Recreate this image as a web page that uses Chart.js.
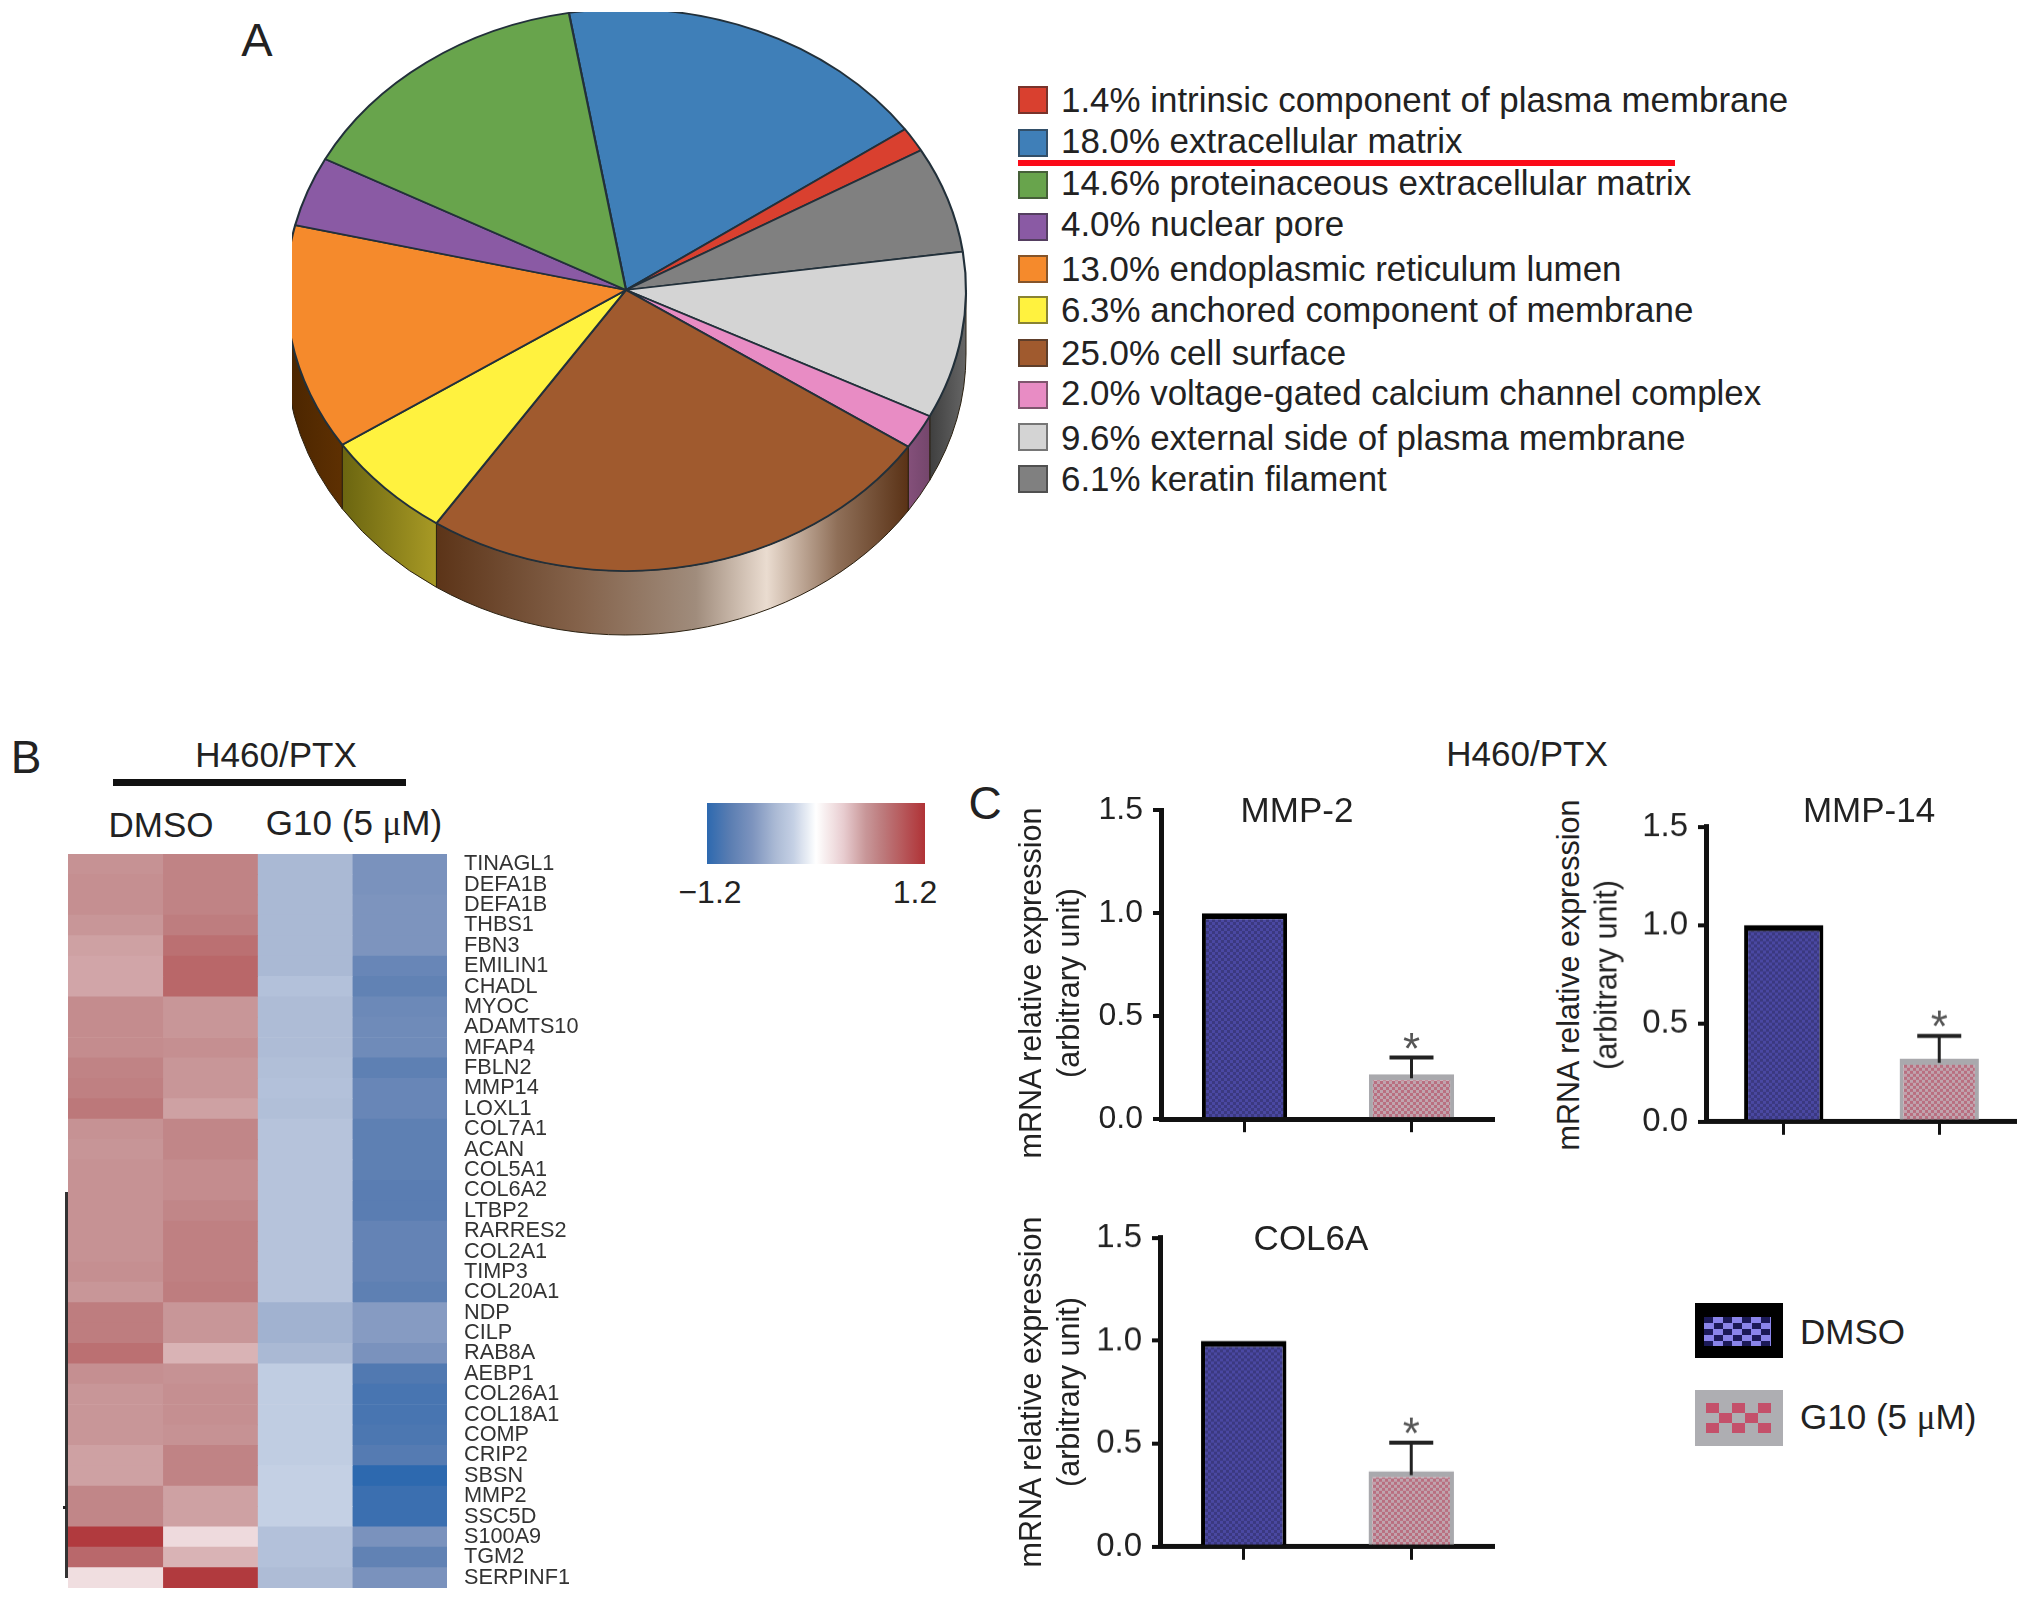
<!DOCTYPE html>
<html>
<head>
<meta charset="utf-8">
<title>H460/PTX</title>
<script src="https://cdn.jsdelivr.net/npm/chart.js@4/dist/chart.umd.js"></script>
<style>
    html, body { margin: 0; padding: 0; background: #fff; }
    #page { position: relative; width: 2032px; height: 1602px; overflow: hidden; background: #fff; font-family: "Liberation Sans", sans-serif; color: #222; }
    #page canvas { position: absolute; }
    .txt { position: absolute; white-space: nowrap; transform: translate(-50%, -50%); }
    .txt.left { transform: translate(0, -50%); }
    .txt.rot { transform: translate(-50%, -50%) rotate(-90deg); }
    .box { position: absolute; }
    .mu { font-family: "Liberation Serif", serif; }
</style>
</head>
<body>
<div id="page"></div>
<script>
// --- A: pie data (legend order) ---
const pieLabels = ['intrinsic component of plasma membrane', 'extracellular matrix', 'proteinaceous extracellular matrix', 'nuclear pore', 'endoplasmic reticulum lumen', 'anchored component of membrane', 'cell surface', 'voltage-gated calcium channel complex', 'external side of plasma membrane', 'keratin filament'];
const pieValues = [1.4, 18.0, 14.6, 4.0, 13.0, 6.3, 25.0, 2.0, 9.6, 6.1];
const pieColors = ['#d9402f', '#3f7fb8', '#68a44c', '#8a5aa4', '#f58a2c', '#fff23f', '#a05a2e', '#e88cc4', '#d4d4d4', '#808080'];
// side wall gradient of the slices that show a wall
const pieSides = {
    4: [[0, '#4a2500'], [1, '#5e3002']],
    5: [[0, '#6b6510'], [1, '#a89a25']],
    6: [[0, '#5c3418'], [0.3, '#84624a'], [0.55, '#a08c7c'], [0.7, '#eadcd0'], [0.85, '#8f6f58'], [1, '#5a3216']],
    7: [[0, '#84507a'], [1, '#74466c']],
    8: [[0, '#3f3f3f'], [1, '#666666']]
};

// --- B: heatmap data, z-scores ---
const geneLabels = ['TINAGL1', 'DEFA1B', 'DEFA1B', 'THBS1', 'FBN3', 'EMILIN1', 'CHADL', 'MYOC', 'ADAMTS10', 'MFAP4', 'FBLN2', 'MMP14', 'LOXL1', 'COL7A1', 'ACAN', 'COL5A1', 'COL6A2', 'LTBP2', 'RARRES2', 'COL2A1', 'TIMP3', 'COL20A1', 'NDP', 'CILP', 'RAB8A', 'AEBP1', 'COL26A1', 'COL18A1', 'COMP', 'CRIP2', 'SBSN', 'MMP2', 'SSC5D', 'S100A9', 'TGM2', 'SERPINF1'];
const dmso1 = [0.58, 0.6, 0.6, 0.55, 0.5, 0.48, 0.48, 0.62, 0.62, 0.62, 0.68, 0.7, 0.75, 0.58, 0.56, 0.58, 0.58, 0.58, 0.58, 0.58, 0.6, 0.55, 0.72, 0.72, 0.8, 0.6, 0.55, 0.55, 0.55, 0.5, 0.5, 0.66, 0.66, 1.15, 0.85, 0.2];
const dmso2 = [0.68, 0.68, 0.68, 0.72, 0.8, 0.86, 0.86, 0.55, 0.55, 0.6, 0.55, 0.55, 0.5, 0.66, 0.66, 0.62, 0.62, 0.66, 0.7, 0.7, 0.7, 0.72, 0.55, 0.55, 0.42, 0.58, 0.6, 0.6, 0.58, 0.68, 0.68, 0.5, 0.5, 0.22, 0.42, 1.15];
const g10a = [-0.45, -0.45, -0.45, -0.45, -0.45, -0.45, -0.38, -0.42, -0.42, -0.42, -0.4, -0.38, -0.4, -0.36, -0.36, -0.36, -0.36, -0.36, -0.36, -0.36, -0.36, -0.36, -0.5, -0.5, -0.45, -0.28, -0.28, -0.28, -0.28, -0.28, -0.25, -0.25, -0.25, -0.38, -0.38, -0.42];
const g10b = [-0.72, -0.72, -0.7, -0.7, -0.7, -0.85, -0.9, -0.82, -0.8, -0.8, -0.92, -0.85, -0.85, -0.92, -0.92, -0.92, -0.95, -0.95, -0.88, -0.88, -0.88, -0.92, -0.65, -0.65, -0.72, -1.0, -1.05, -1.05, -1.03, -0.98, -1.2, -1.12, -1.12, -0.72, -0.9, -0.72];

// --- C: bar data ---
const barGroups = ['DMSO', 'G10 (5 μM)'];
const barTicks = [0, 0.5, 1.0, 1.5];
const mmp2Values = [1.0, 0.218];
const mmp2Upper = [null, 0.30];
const mmp14Values = [1.0, 0.32];
const mmp14Upper = [null, 0.437];
const col6aValues = [1.0, 0.367];
const col6aUpper = [null, 0.506];

// colour scale of the heatmap: z value -> rgb
const heatStops = [
    [-1.2, [45, 105, 175]],
    [-0.95, [90, 125, 178]],
    [-0.7, [125, 148, 190]],
    [-0.45, [170, 185, 212]],
    [-0.25, [196, 208, 228]],
    [0, [255, 255, 255]],
    [0.3, [232, 205, 208]],
    [0.55, [200, 150, 152]],
    [0.75, [188, 120, 122]],
    [1.2, [176, 50, 54]]
];

function heatColor(v) {
    for (let i = 1; i < heatStops.length; i++) {
        if (v <= heatStops[i][0]) {
            const a = heatStops[i - 1], b = heatStops[i];
            const t = (v - a[0]) / (b[0] - a[0]);
            const c = a[1].map((x, k) => Math.round(x + (b[1][k] - x) * t));
            return `rgb(${c[0]}, ${c[1]}, ${c[2]})`;
        }
    }
    return 'rgb(176, 50, 54)';
}

const page = document.getElementById('page');
Chart.defaults.font.family = '"Liberation Sans", sans-serif';
Chart.defaults.color = '#222';
Chart.defaults.animation = false;
Chart.defaults.responsive = false;
Chart.defaults.maintainAspectRatio = false;
Chart.defaults.devicePixelRatio = 1;

function addCanvas(left, top, width, height) {
    const c = document.createElement('canvas');
    c.width = width;
    c.height = height;
    c.style.left = left + 'px';
    c.style.top = top + 'px';
    c.style.width = width + 'px';
    c.style.height = height + 'px';
    page.appendChild(c);
    return c;
}

function addText(html, x, y, size, cls) {
    const d = document.createElement('div');
    d.className = 'txt ' + (cls || '');
    d.innerHTML = html;
    d.style.left = x + 'px';
    d.style.top = y + 'px';
    d.style.fontSize = size + 'px';
    page.appendChild(d);
    return d;
}

function addBox(x, y, w, h, background) {
    const d = document.createElement('div');
    d.className = 'box';
    d.style.left = x + 'px';
    d.style.top = y + 'px';
    d.style.width = w + 'px';
    d.style.height = h + 'px';
    d.style.background = background;
    page.appendChild(d);
    return d;
}

// resize and move a chart so that its plot area lands on the wanted rectangle
function fitPlot(chart, left, top, right, bottom) {
    for (let i = 0; i < 3; i++) {
        const a = chart.chartArea;
        chart.resize(chart.width + (right - left) - (a.right - a.left), chart.height + (bottom - top) - (a.bottom - a.top));
    }
    const a = chart.chartArea;
    chart.canvas.style.left = (left - a.left) + 'px';
    chart.canvas.style.top = (top - a.top) + 'px';
}

// --- panel A ---
// the pie is squashed to an ellipse and gets a side wall
const pie3d = {
    id: 'pie3d',
    beforeDatasetsDraw(chart, args, opts) {
        const ctx = chart.ctx;
        const arcs = chart.getDatasetMeta(0).data;
        const r = arcs[0].outerRadius;
        ctx.save();
        arcs.forEach((arc, i) => {
            const stops = pieSides[chart.data.datasets[0].sourceIndex[i]];
            if (!stops) return;
            for (const k of [-1, 0, 1]) {
                const lo = Math.max(arc.startAngle + k * 2 * Math.PI, 0);
                const hi = Math.min(arc.endAngle + k * 2 * Math.PI, Math.PI);
                if (hi <= lo) continue;
                const x0 = opts.cx + opts.rx * Math.cos(hi);
                const x1 = opts.cx + opts.rx * Math.cos(lo);
                const g = ctx.createLinearGradient(x0, 0, x1, 0);
                stops.forEach(s => g.addColorStop(s[0], s[1]));
                ctx.beginPath();
                ctx.ellipse(opts.cx, opts.cy, opts.rx, opts.ry, 0, lo, hi);
                ctx.ellipse(opts.cx, opts.cy + opts.depth, opts.rx, opts.ry, 0, hi, lo, true);
                ctx.closePath();
                ctx.fillStyle = g;
                ctx.fill();
                ctx.strokeStyle = '#2a2010';
                ctx.lineWidth = 1;
                ctx.stroke();
            }
        });
        ctx.restore();
        ctx.save();
        ctx.translate(opts.cx, opts.cy);
        ctx.scale(opts.rx / r, opts.ry / r);
        ctx.translate(-arcs[0].x, -arcs[0].y);
    },
    afterDatasetsDraw(chart) {
        chart.ctx.restore();
    }
};

// clockwise order of the slices, starting at the top
const pieOrder = [1, 0, 9, 8, 7, 6, 5, 4, 3, 2];
new Chart(addCanvas(292, 12, 700, 640), {
    type: 'pie',
    plugins: [pie3d],
    data: {
        labels: pieOrder.map(i => pieLabels[i]),
        datasets: [{
            data: pieOrder.map(i => pieValues[i]),
            sourceIndex: pieOrder,
            backgroundColor: pieOrder.map(i => pieColors[i]),
            borderColor: '#22303a',
            borderWidth: 2
        }]
    },
    options: {
        rotation: -9.67,
        layout: { padding: 0 },
        plugins: {
            legend: { display: false },
            tooltip: { enabled: false },
            pie3d: { cx: 334, cy: 278, rx: 340, ry: 281, depth: 64 }
        }
    }
});

addText('A', 257, 39, 47);

const legendRowY = [100, 142.5, 185, 226.5, 269, 310, 353, 395, 437, 479];
const legendTextY = [100, 141, 183, 224, 269, 310, 353, 393, 438, 479];
pieLabels.forEach((label, i) => {
    const s = addBox(1018, legendRowY[i] - 14, 30, 28, pieColors[i]);
    s.style.boxSizing = 'border-box';
    s.style.border = '2px solid rgba(40, 40, 40, 0.55)';
    addText(pieValues[i].toFixed(1) + '% ' + label, 1061, legendTextY[i], 34.9, 'left');
});
addBox(1018, 160, 657, 6, '#fb0a18');

// --- panel B ---
addText('B', 26, 757, 46);
addText('H460/PTX', 276, 755, 35);
addBox(113, 779, 293, 7, '#111');
addText('DMSO', 161, 825, 35);
addText('G10 (5 <span class="mu">μ</span>M)', 354, 823, 35);

const heatColumns = [dmso1, dmso2, g10a, g10b];
const heatChart = new Chart(addCanvas(68, 854, 529, 734), {
    type: 'bar',
    data: {
        labels: geneLabels,
        datasets: heatColumns.map(col => ({
            data: col.map(() => 1),
            backgroundColor: col.map(heatColor),
            borderWidth: 0,
            barPercentage: 1,
            categoryPercentage: 1
        }))
    },
    options: {
        indexAxis: 'y',
        layout: { padding: 0, autoPadding: false },
        plugins: { legend: { display: false }, tooltip: { enabled: false } },
        scales: {
            x: { stacked: true, display: false, min: 0, max: heatColumns.length },
            y: {
                stacked: true,
                position: 'right',
                afterFit(scale) { scale.width = 150; },
                grid: { display: false },
                border: { display: false },
                ticks: {
                    autoSkip: false,
                    padding: 9,
                    color: '#333',
                    font: { size: 21.7 }
                }
            }
        }
    }
});
fitPlot(heatChart, 68, 854, 447, 1588);

// dendrogram stub
addBox(65, 1192, 3, 386, '#333');
addBox(63, 1506, 3, 3, '#222');

// colour key
const cssStops = [];
for (let i = 0; i <= 48; i++) {
    cssStops.push(heatColor(-1.2 + i * 0.05));
}
addBox(707, 803, 218, 61, 'linear-gradient(to right, ' + cssStops.join(', ') + ')');
addText('−1.2', 710, 892, 32);
addText('1.2', 915, 892, 32);

// --- panel C ---
addText('C', 985, 803, 46);
addText('H460/PTX', 1527, 754, 35);

function makePattern(base, dot, cell) {
    const p = document.createElement('canvas');
    p.width = cell * 2;
    p.height = cell * 2;
    const c = p.getContext('2d');
    c.fillStyle = base;
    c.fillRect(0, 0, p.width, p.height);
    c.fillStyle = dot;
    c.fillRect(0, 0, cell, cell);
    c.fillRect(cell, cell, cell, cell);
    return c.createPattern(p, 'repeat');
}

// error whiskers and the star, placed through the y scale
const errorStars = {
    id: 'errorStars',
    afterDatasetsDraw(chart) {
        const ds = chart.data.datasets[0];
        const y = chart.scales.y;
        const ctx = chart.ctx;
        chart.getDatasetMeta(0).data.forEach((bar, i) => {
            if (ds.upper[i] == null) return;
            const top = y.getPixelForValue(ds.upper[i]);
            ctx.save();
            ctx.strokeStyle = '#222';
            ctx.lineWidth = 3;
            ctx.beginPath();
            ctx.moveTo(bar.x, y.getPixelForValue(ds.data[i]) + 4);
            ctx.lineTo(bar.x, top);
            ctx.stroke();
            ctx.lineWidth = 4;
            ctx.beginPath();
            ctx.moveTo(bar.x - 22, top);
            ctx.lineTo(bar.x + 22, top);
            ctx.stroke();
            ctx.fillStyle = '#555';
            ctx.font = '44px "Liberation Sans"';
            ctx.textAlign = 'center';
            ctx.textBaseline = 'middle';
            ctx.fillText('*', bar.x, top - 6);
            ctx.restore();
        });
    }
};

function drawBarPanel(cfg) {
    const axisW = 120, pad = 20;
    const canvas = addCanvas(cfg.left - axisW, cfg.top - pad, axisW + cfg.right - cfg.left, cfg.bottom - cfg.top + pad * 2);
    const chart = new Chart(canvas, {
        type: 'bar',
        plugins: [errorStars],
        data: {
            labels: barGroups,
            datasets: [{
                data: cfg.values,
                upper: cfg.upper,
                backgroundColor: [makePattern('#3b3980', '#4a48a2', 3), makePattern('#b96f80', '#c0a4ae', 3)],
                borderColor: ['#000', '#a9a9ad'],
                borderWidth: { top: 6, left: 4, right: 4, bottom: 0 },
                borderSkipped: false,
                barPercentage: 0.51,
                categoryPercentage: 1
            }]
        },
        options: {
            layout: { padding: { top: pad, left: 0, right: 0, bottom: 0 }, autoPadding: false },
            plugins: { legend: { display: false }, tooltip: { enabled: false } },
            scales: {
                x: {
                    afterFit(scale) { scale.height = pad; },
                    border: { display: true, color: '#111', width: 5 },
                    grid: { offset: false, drawOnChartArea: false, color: '#111', lineWidth: 3, tickLength: 13 },
                    ticks: { display: false }
                },
                y: {
                    min: 0,
                    max: 1.5,
                    afterFit(scale) { scale.width = axisW; },
                    afterBuildTicks(scale) { scale.ticks = barTicks.map(v => ({ value: v })); },
                    border: { display: true, color: '#111', width: 5 },
                    grid: { drawOnChartArea: false, color: '#111', lineWidth: 4, tickLength: 8 },
                    ticks: {
                        padding: 10,
                        color: '#222',
                        font: { size: cfg.tickSize },
                        callback: v => v.toFixed(1)
                    }
                }
            }
        }
    });
    fitPlot(chart, cfg.left, cfg.top, cfg.right, cfg.bottom);
    addText(cfg.title, cfg.titleX, cfg.titleY, 35);
    addText('mRNA relative expression', cfg.yTitleX, cfg.yTitleY, 30.5, 'rot');
    addText('(arbitrary unit)', cfg.yTitleX + 38, cfg.yTitleY, 30.5, 'rot');
}

drawBarPanel({ left: 1161, right: 1495, top: 810, bottom: 1119, values: mmp2Values, upper: mmp2Upper, tickSize: 32, title: 'MMP-2', titleX: 1297, titleY: 810, yTitleX: 1030, yTitleY: 983 });
drawBarPanel({ left: 1706, right: 2017, top: 827, bottom: 1121, values: mmp14Values, upper: mmp14Upper, tickSize: 33, title: 'MMP-14', titleX: 1869, titleY: 810, yTitleX: 1568, yTitleY: 975 });
drawBarPanel({ left: 1160, right: 1495, top: 1238, bottom: 1546, values: col6aValues, upper: col6aUpper, tickSize: 33, title: 'COL6A', titleX: 1311, titleY: 1238, yTitleX: 1030, yTitleY: 1392 });

// legend of panel C
addBox(1695, 1303, 88, 55, '#000');
const dmsoChip = addBox(1704, 1317, 67, 29, 'repeating-conic-gradient(#8a84ea 0 25%, #1c1a58 0 50%)');
dmsoChip.style.backgroundSize = '19px 12px';
addText('DMSO', 1800, 1332, 35, 'left');
addBox(1695, 1390, 88, 56, '#aeaeb2');
const g10Chip = addBox(1706, 1403, 65, 30, 'repeating-conic-gradient(#aeaeb2 0 25%, #c4506a 0 50%)');
g10Chip.style.backgroundSize = '26px 20px';
addText('G10 (5 <span class="mu">μ</span>M)', 1800, 1417, 35, 'left');
</script>
</body>
</html>
